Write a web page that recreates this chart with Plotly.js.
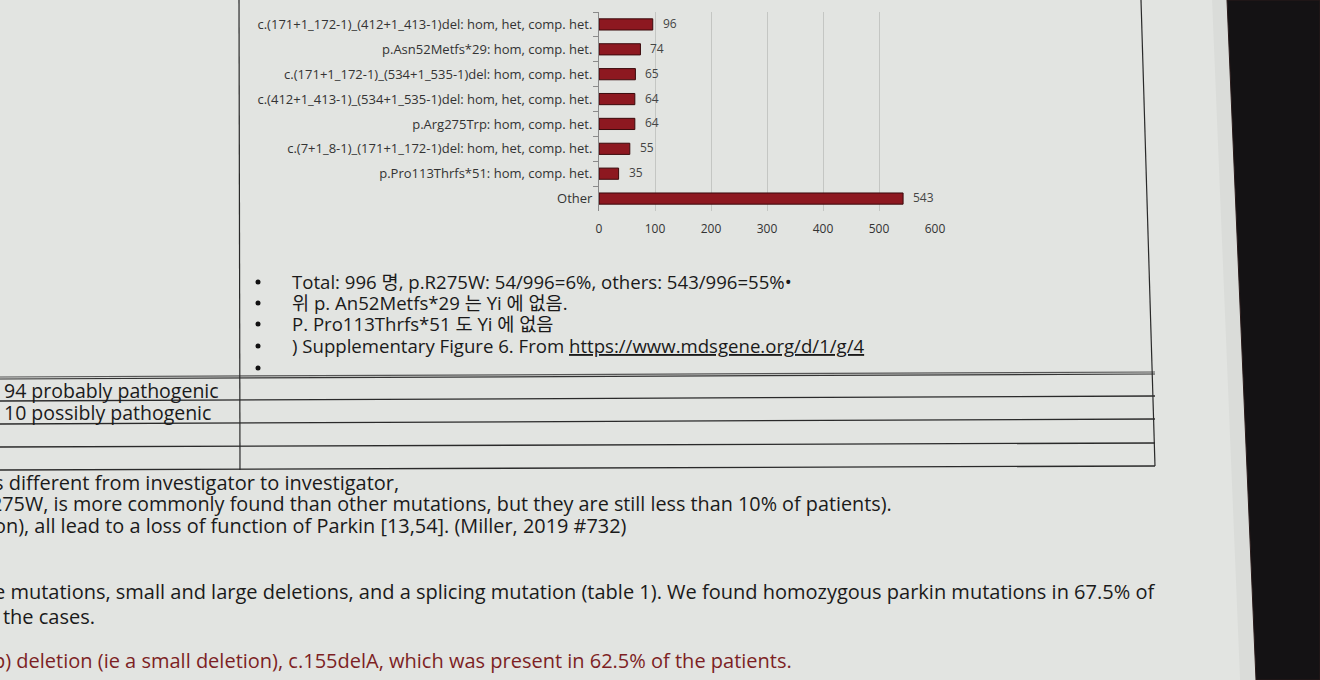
<!DOCTYPE html>
<html>
<head>
<meta charset="utf-8">
<script src="https://cdn.plot.ly/plotly-3.0.1.min.js"></script>
<style>html,body{margin:0;padding:0;background:#e3e5e2;}#chart{width:1320px;height:680px;}</style>
</head>
<body>
<div id="chart"></div>
<script>
// ---- data ----
const categories = [
  "c.(171+1_172-1)_(412+1_413-1)del: hom, het, comp. het.",
  "p.Asn52Metfs*29: hom, comp. het.",
  "c.(171+1_172-1)_(534+1_535-1)del: hom, comp. het.",
  "c.(412+1_413-1)_(534+1_535-1)del: hom, het, comp. het.",
  "p.Arg275Trp: hom, comp. het.",
  "c.(7+1_8-1)_(171+1_172-1)del: hom, het, comp. het.",
  "p.Pro113Thrfs*51: hom, comp. het.",
  "Other"
];
const counts = [96, 74, 65, 64, 64, 55, 35, 543];
const xTickValues = [0, 100, 200, 300, 400, 500, 600];

const bulletLines = [
  "Total: 996 명, p.R275W: 54/996=6%, others: 543/996=55%•",
  "위 p. An52Metfs*29 는 Yi 에 없음.",
  "P. Pro113Thrfs*51 도 Yi 에 없음",
  ") Supplementary Figure 6. From <u>https://www.mdsgene.org/d/1/g/4</u>",
  ""
];
const tableLabels = ["94 probably pathogenic", "10 possibly pathogenic"];
const bodyLines = [
  "s different from investigator to investigator,",
  "275W, is more commonly found than other mutations, but they are still less than 10% of patients).",
  "on), all lead to a loss of function of Parkin [13,54]. (Miller, 2019 #732)",
  "e mutations, small and large deletions, and a splicing mutation (table 1). We found homozygous parkin mutations in 67.5% of",
  "f the cases.",
  "p) deletion (ie a small deletion), c.155delA, which was present in 62.5% of the patients."
];

// ---- layout helpers (pixel -> paper) ----
const W = 1320, H = 680;
const px = x => x / W;
const py = y => 1 - y / H;

const bodyFont = "Open Sans, Noto Sans CJK KR, sans-serif";
const chartFont = "Open Sans, sans-serif";
const annotations = [];
const shapes = [];

// bar value labels (placed through the data axes)
counts.forEach((v, i) => {
  annotations.push({
    x: v, y: categories[i], xref: "x", yref: "y",
    text: String(v), showarrow: false, xanchor: "left", xshift: 8, yshift: 1,
    font: {family: chartFont, size: 12, color: "#444"}
  });
});

// bullets (dots drawn as small circles) and their text
const bulletY = [281, 302, 323, 345, 367];
bulletLines.forEach((t, i) => {
  const cy = bulletY[i] + 1;
  shapes.push({type: "circle", xref: "paper", yref: "paper",
    x0: px(255.5), x1: px(260.5), y0: py(cy + 2.5), y1: py(cy - 2.5),
    fillcolor: "#111", line: {width: 0}});
  if (t) annotations.push({x: px(290), y: py(bulletY[i]), xref: "paper", yref: "paper", text: t,
    showarrow: false, xanchor: "left", yanchor: "middle",
    font: {family: bodyFont, size: 18.6, color: "#1a1a1a"}});
});

// table labels
const tableY = [390, 413];
tableLabels.forEach((t, i) => {
  annotations.push({x: px(2), y: py(tableY[i]), xref: "paper", yref: "paper", text: t,
    showarrow: false, xanchor: "left", yanchor: "middle",
    font: {family: bodyFont, size: 19.5, color: "#1a1a1a"}});
});

// body text (photo crops the first letters at the left edge)
const bodyX = [-8, -11, -8, -8, -11, -9];
const bodyY = [482, 503, 525, 591, 616, 660];
const bodySize = [20, 19.8, 19.9, 20, 20, 20];
const bodyColor = ["#1a1a1a", "#1a1a1a", "#1a1a1a", "#1a1a1a", "#1a1a1a", "#7d1f24"];
bodyLines.forEach((t, i) => {
  annotations.push({x: px(bodyX[i]), y: py(bodyY[i]), xref: "paper", yref: "paper", text: t,
    showarrow: false, xanchor: "left", yanchor: "middle",
    font: {family: bodyFont, size: bodySize[i], color: bodyColor[i]}});
});

// shapes: table lines, bezel
const line = (x0, y0, x1, y1, w, c) => shapes.push({type: "line", xref: "paper", yref: "paper",
  x0: px(x0), y0: py(y0), x1: px(x1), y1: py(y1), line: {color: c || "#2a2a2a", width: w || 1}});
line(0, 377, 1155, 372, 1.2, "#555");
line(0, 379, 1155, 374, 1.2, "#333");
line(0, 401, 1155, 396, 1.3);
line(0, 424, 1155, 419, 1.3);
line(0, 447, 1155, 443, 1.3);
line(0, 470, 1155, 466, 1.3);
line(239, 0, 240, 470, 1.2);
line(1141, 0, 1155, 466, 1.2);
// screen edge
shapes.push({type: "path", xref: "paper", yref: "paper",
  path: `M ${px(1212)} 1 L ${px(1227)} 1 L ${px(1256)} 0 L ${px(1240)} 0 Z`,
  fillcolor: "rgba(0,0,0,0.03)", line: {width: 0}, layer: "above"});
shapes.push({type: "path", xref: "paper", yref: "paper",
  path: `M ${px(1227)} 1 L 1 1 L 1 0 L ${px(1256)} 0 Z`,
  fillcolor: "#141214", line: {color: "#2a1a1a", width: 1}, layer: "above"});

const trace = {
  type: "bar", orientation: "h",
  x: counts, y: categories,
  width: 0.45,
  marker: {color: "#8d1820", line: {color: "#3b0a0c", width: 1}},
  hoverinfo: "skip"
};

const layout = {
  width: W, height: H,
  margin: {l: 0, r: 0, t: 0, b: 0},
  paper_bgcolor: "#e2e4e1", plot_bgcolor: "rgba(0,0,0,0)",
  showlegend: false,
  xaxis: {
    domain: [px(599), px(935)], range: [0, 600],
    tickvals: xTickValues, ticktext: xTickValues.map(String),
    showgrid: true, gridcolor: "#c4c6c3", gridwidth: 1,
    zeroline: false, showline: false, ticks: "",
    ticklabelstandoff: 9,
    tickfont: {family: chartFont, size: 12, color: "#333"}
  },
  yaxis: {
    domain: [py(211), py(12)],
    type: "category", categoryorder: "array", categoryarray: categories,
    autorange: "reversed",
    showline: true, linecolor: "#8a8a8a", linewidth: 1,
    ticks: "outside", tickson: "boundaries", ticklen: 5, tickcolor: "#8a8a8a",
    ticklabelstandoff: 3,
    showgrid: false,
    tickfont: {family: chartFont, size: 13, color: "#333"}
  },
  annotations: annotations,
  shapes: shapes
};

Plotly.newPlot("chart", [trace], layout, {displayModeBar: false, staticPlot: true});
</script>
</body>
</html>
